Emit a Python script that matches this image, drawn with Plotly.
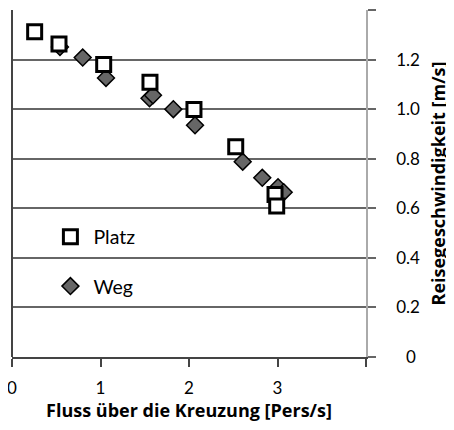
import plotly.graph_objects as go

# Platz (squares)
platz_x = [0.256, 0.531, 1.036, 1.559, 2.056, 2.528, 2.972, 2.991]
platz_y = [1.312, 1.263, 1.180, 1.109, 0.999, 0.848, 0.656, 0.609]

# Weg (diamonds)
weg_x = [0.542, 0.799, 1.062, 1.554, 1.593, 1.823, 2.068, 2.607, 2.828, 3.006, 3.070]
weg_y = [1.251, 1.208, 1.126, 1.044, 1.056, 1.000, 0.935, 0.788, 0.723, 0.685, 0.665]

x_ticks = [0, 1, 2, 3, 4]
x_labels = ["0", "1", "2", "3", ""]
y_ticks = [0, 0.2, 0.4, 0.6, 0.8, 1.0, 1.2, 1.4]
y_labels = ["\u20070", "0.2", "0.4", "0.6", "0.8", "1.0", "1.2", ""]

FONT = "Lato"
TITLE_FONT = "Open Sans"

fig = go.Figure()
fig.add_trace(go.Scatter(
    x=weg_x, y=weg_y, mode="markers", name="Weg", legendgroup="b", legendrank=2,
    marker=dict(symbol="diamond", size=13, color="#666666",
                line=dict(color="black", width=1.5)),
))
fig.add_trace(go.Scatter(
    x=platz_x, y=platz_y, mode="markers", name="Platz", legendgroup="a", legendrank=1,
    marker=dict(symbol="square", size=14, color="white",
                line=dict(color="black", width=3)),
))

fig.update_layout(
    width=446, height=422,
    margin=dict(l=4, r=88, t=2, b=73, autoexpand=False),
    plot_bgcolor="white", paper_bgcolor="white",
    font=dict(family=FONT, size=17, color="black"),
    showlegend=True,
    legend=dict(x=0.1, y=0.275, xanchor="left", yanchor="middle",
                bgcolor="rgba(0,0,0,0)", font=dict(size=19.5),
                tracegroupgap=21, traceorder="grouped", itemwidth=36),
    xaxis=dict(
        range=[0, 4], tickvals=x_ticks, ticktext=x_labels, automargin=False,
        showgrid=False, showline=True, linecolor="#444444", linewidth=1.5,
        ticks="outside", ticklen=8, tickwidth=1.5, tickcolor="#444444",
        zeroline=True, zerolinecolor="#444444", zerolinewidth=2,
        ticklabelstandoff=7, ticklabeloverflow="allow",
        title=dict(text="\u2002\u2002<b>Fluss über die Kreuzung [Pers/s]</b>", standoff=2,
                   font=dict(family=TITLE_FONT, size=18)),
    ),
    yaxis=dict(
        range=[0, 1.4], side="right", tickvals=y_ticks, ticktext=y_labels, automargin=False,
        showgrid=True, gridcolor="#666666", gridwidth=1.5,
        showline=True, linecolor="#aaaaaa", linewidth=1.5,
        ticks="outside", ticklen=8, tickwidth=1.5, tickcolor="#666666",
        zeroline=False, ticklabelstandoff=17, ticklabeloverflow="allow",
        title=dict(text="<b>Reisegeschwindigkeit [m/s]</b>", standoff=13,
                   font=dict(family=TITLE_FONT, size=18)),
    ),
)

fig.write_html("out.html")
